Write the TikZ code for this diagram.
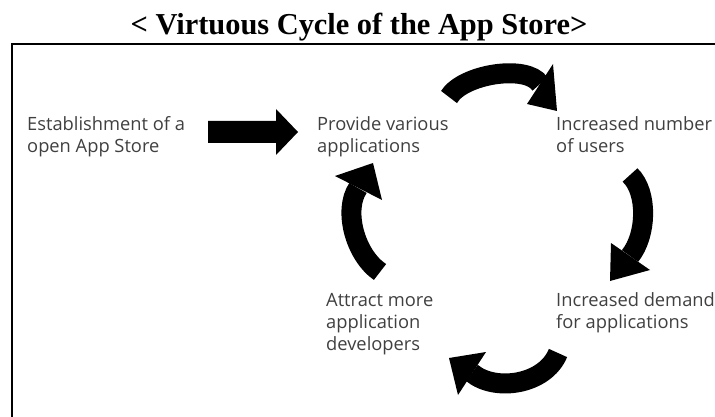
\documentclass[tikz,border=0pt]{standalone}
\usepackage{fontspec}
\setmainfont{Liberation Serif}
\newfontfamily\labelfont{Open Sans}
\begin{document}
\begin{tikzpicture}[x=1pt,y=-1pt,
  lbl/.style={font=\labelfont\fontsize{18.3}{22}\selectfont, text=black!75,
    align=left, anchor=north west, inner sep=0pt},
  shaft/.style={line width=20pt, line cap=butt, draw=black},
  ahead/.style={fill=black, draw=none}]
\useasboundingbox (0,0) rectangle (715,417);
\clip (0,0) rectangle (715,417);
\fill[white] (0,0) rectangle (715,417);

% title
\node[font=\bfseries\fontsize{30.4}{32}\selectfont, anchor=base, inner sep=0pt] (title) at (359,35)
  {< Virtuous Cycle of the App Store>};

% frame (runs off the right and bottom edges)
\draw[line width=2pt] (12,430) -- (12,44) -- (730,44);

% labels; \strut fixes the first baseline 15.4pt below the node top
\node[lbl] (est)    at (27,114.6)  {\strut Establishment of a\\open App Store};
\node[lbl] (prov)   at (317,114.6) {\strut Provide various\\applications};
\node[lbl] (users)  at (556,114.6) {\strut Increased number\\of users};
\node[lbl] (demand) at (556,290.6) {\strut Increased demand\\for applications};
\node[lbl] (dev)    at (326,290.6) {\strut Attract more\\application\\developers};

% straight block arrow
\fill (208,121) -- (276,121) -- (276,109) -- (298,132) -- (276,155) -- (276,143) -- (208,143) -- cycle;

% curved arrows of the cycle
\coordinate (t2) at (449,97);  \coordinate (b2) at (540,84);
\draw[shaft] (t2) .. controls (463,74) and (527,64) .. (b2);
\fill[ahead] (553,64) -- (557,111) -- (527,104) -- cycle;

\coordinate (t3) at (630,175); \coordinate (b3) at (630,256);
\draw[shaft] (t3) .. controls (648,192) and (647,235) .. (b3);
\fill[ahead] (611,243) -- (610,281) -- (650,270) -- cycle;

\coordinate (t4) at (558,353); \coordinate (b4) at (472,373);
\draw[shaft] (t4) .. controls (545,385) and (495,392) .. (b4);
\fill[ahead] (486,352) -- (449,358) -- (458,395) -- cycle;

\coordinate (t5) at (380,272); \coordinate (b5) at (358,188);
\draw[shaft] (t5) .. controls (355,255) and (343,210) .. (b5);
\fill[ahead] (335,176) -- (373,163) -- (382,200) -- cycle;
\end{tikzpicture}
\end{document}
